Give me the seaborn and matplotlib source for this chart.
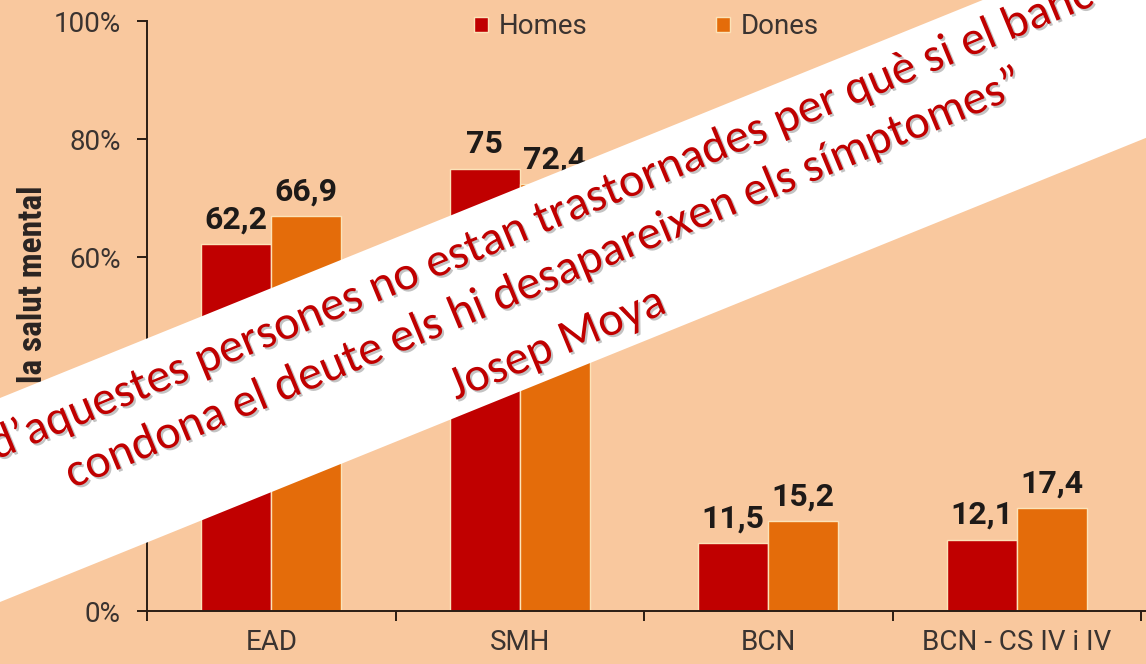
import matplotlib
matplotlib.use("Agg")

import matplotlib.patheffects as pe
import matplotlib.pyplot as plt
import pandas as pd
import seaborn as sns
from matplotlib import font_manager
from matplotlib.patches import Polygon
from matplotlib.ticker import FixedLocator

categories = ["EAD", "SMH", "BCN", "BCN - CS IV i IV"]
groups = ["Homes", "Dones"]
homes = [62.2, 75.0, 11.5, 12.1]
dones = [66.9, 72.4, 15.2, 17.4]
y_ticks = [0, 20, 40, 60, 80, 100]
y_label = "la salut mental"
quote_lines = [
    "d\u2019aquestes persones no estan trastornades per què si el banc",
    "condona el deute els hi desapareixen els símptomes\u201d",
    "Josep Moya",
]

W, H = 1146, 664
BG = "#F9C89E"
RED = "#C00000"
ORANGE = "#E46C0A"
INK = "#3A3330"


def pick_font(names):
    available = {f.name for f in font_manager.fontManager.ttflist}
    for name in names:
        if name in available:
            return name
    return "DejaVu Sans"


def fmt(v):
    s = f"{v:.1f}".replace(".", ",")
    return s[:-2] if s.endswith(",0") else s


def px(x, y):
    # image pixels (top-left origin) -> figure fraction
    return x / W, 1 - y / H


chart_font = pick_font(["Roboto", "DejaVu Sans"])
label_font = pick_font(["Roboto Condensed", "Liberation Sans Narrow", "DejaVu Sans"])
quote_font = pick_font(["Carlito", "Lato", "Open Sans"])

sns.set_style("ticks")
plt.rcParams["font.family"] = [chart_font, "DejaVu Sans"]

df = pd.DataFrame(
    {
        "categoria": categories * 2,
        "sexe": [groups[0]] * len(homes) + [groups[1]] * len(dones),
        "valor": homes + dones,
    }
)

fig = plt.figure(figsize=(W / 100, H / 100), dpi=100, facecolor=BG)
ax = fig.add_axes([147 / W, 53 / H, (W - 147) / W, 590 / H])
ax.set_facecolor(BG)

sns.barplot(
    data=df, x="categoria", y="valor", hue="sexe", hue_order=groups,
    palette=[RED, ORANGE], saturation=1, width=0.565, edgecolor="#FCE3B8",
    linewidth=1.0, ax=ax,
)

for cont in ax.containers:
    ax.bar_label(cont, labels=[fmt(b.get_height()) for b in cont], padding=7,
                 fontsize=23, fontweight="bold", color="#1E1A18")

ax.set_ylim(0, 100)
ax.set_xlim(-0.5, 3.52)
ax.yaxis.set_major_locator(FixedLocator(y_ticks))
ax.set_yticklabels([f"{t}%" for t in y_ticks])
ax.xaxis.set_minor_locator(FixedLocator([-0.5, 0.5, 1.5, 2.5, 3.5]))
ax.tick_params(axis="x", which="major", length=0, pad=13, labelsize=20, labelcolor=INK)
ax.tick_params(axis="x", which="minor", length=7, width=1.4, color="#2B1D14", direction="out")
ax.tick_params(axis="y", length=7, width=1.4, color="#2B1D14", pad=12, labelsize=20, labelcolor=INK)
for side in ["top", "right"]:
    ax.spines[side].set_visible(False)
for side in ["left", "bottom"]:
    ax.spines[side].set_color("#2B1D14")
    ax.spines[side].set_linewidth(1.4)
ax.set_xlabel("")
ax.set_ylabel(y_label, fontsize=24, fontweight="bold", color="#2A2422", ha="right",
              family=[label_font, "DejaVu Sans"])
ax.yaxis.set_label_coords(-0.098, 0.722)

handles, labels = ax.get_legend_handles_labels()
ax.legend(handles, labels, loc="center", bbox_to_anchor=(0.5, 0.99), ncol=2,
          frameon=False, fontsize=20, labelcolor=INK, handlelength=0.5,
          handleheight=0.5, handletextpad=0.4, columnspacing=4.6)

# white banner with the quote over the chart
upper = [(-20, 398 + 0.405 * 20), (1170, 398 - 0.405 * 1170)]
lower = [(1170, 602 - 0.405 * 1170), (-20, 602 + 0.405 * 20)]
banner = Polygon([px(*p) for p in upper + lower], closed=True, transform=fig.transFigure,
                 facecolor="white", edgecolor="none", zorder=5)
fig.add_artist(banner)

shadow = [pe.withSimplePatchShadow(offset=(1.5, -1.5), shadow_rgbFace="#7a7a7a", alpha=0.45)]
anchors = [(px(-4, 460), "left"), (px(549, 291), "center"), (px(562, 356), "center")]
for line, (pos, ha) in zip(quote_lines, anchors):
    fig.text(pos[0], pos[1], line, ha=ha, va="baseline", rotation=22.5,
             rotation_mode="anchor", fontsize=34.5, color="#C00000",
             family=[quote_font, "DejaVu Sans"], zorder=6, path_effects=shadow)

fig.savefig("out.png", dpi=100, facecolor=BG)
